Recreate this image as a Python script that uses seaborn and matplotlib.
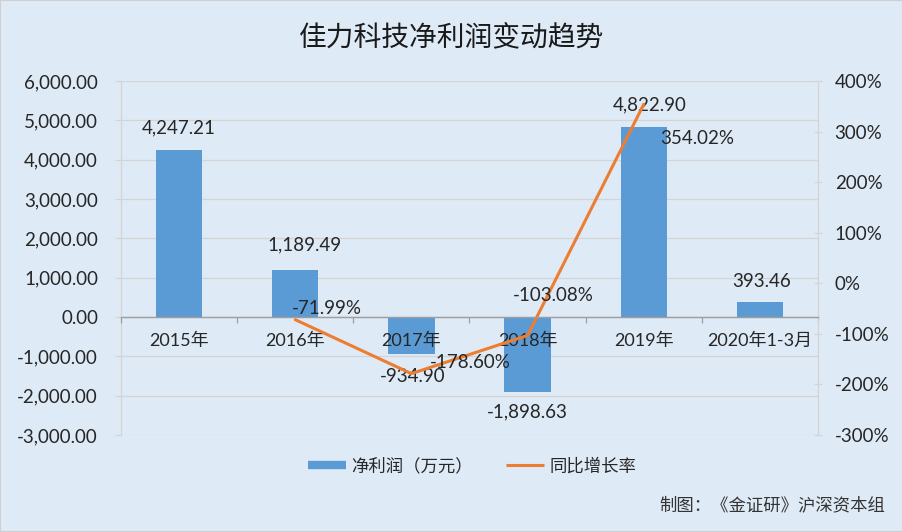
import matplotlib
matplotlib.use("Agg")
import matplotlib.pyplot as plt
from matplotlib.lines import Line2D
from matplotlib.patches import Rectangle
import seaborn as sns
import pandas as pd
import numpy as np

# ---- data ----
categories = ["2015年", "2016年", "2017年", "2018年", "2019年", "2020年1-3月"]
net_profit = [4247.21, 1189.49, -934.90, -1898.63, 4822.90, 393.46]   # 万元
yoy_growth = [np.nan, -71.99, -178.60, -103.08, 354.02, np.nan]        # %
profit_label_offsets = [(0, 22), (9, 25), (1, -23), (0, -20), (6, 22), (2, 20)]   # pixels
yoy_label_offsets = [None, (32, 11), (59, 11), (26, 40), (53, -34), None]        # pixels

title = "佳力科技净利润变动趋势"
legend_labels = ["净利润（万元）", "同比增长率"]
source = "制图：《金证研》沪深资本组"

BG = "#DEEAF6"
BAR = "#5B9BD5"
LINE = "#ED7D31"
TXT = "#262626"
GRID = "#D4D4D4"
AXIS = "#9E9E9E"
NUM_FS = 13.5

sns.set_theme(style="white")
plt.rcParams["font.family"] = ["Lato", "Noto Sans CJK SC", "DejaVu Sans"]
plt.rcParams["axes.unicode_minus"] = False

df = pd.DataFrame({"cat": categories, "profit": net_profit, "yoy": yoy_growth})

fig = plt.figure(figsize=(9.03, 5.32), dpi=100, facecolor=BG)
ax = fig.add_axes([121 / 903, 1 - 435 / 532, (818 - 121) / 903, (435 - 81) / 532])
ax.set_facecolor("none")

sns.barplot(data=df, x="cat", y="profit", order=categories, color=BAR,
            saturation=1, width=0.4, linewidth=0, edgecolor="none", ax=ax, zorder=2)

ax2 = ax.twinx()
sns.pointplot(data=df, x="cat", y="yoy", order=categories, color=LINE,
              markers="", linestyles="-", errorbar=None, ax=ax2)
for l in ax2.lines:
    l.set_linewidth(2.2)
    l.set_solid_capstyle("round")

# ---- axes styling ----
y_lo, y_hi = -3000, 6000
ax.set_xlim(-0.5, len(categories) - 0.5)
ax.set_ylim(y_lo, y_hi)
ax.set_yticks(np.arange(y_lo, y_hi + 1, 1000))
ax.set_yticklabels([f"{v:,.2f}" for v in np.arange(y_lo, y_hi + 1, 1000)])
ax2.set_ylim(-300, 400)
ax2.set_yticks(np.arange(-300, 401, 100))
ax2.set_yticklabels([f"{v:.0f}%" for v in np.arange(-300, 401, 100)])

for a in (ax, ax2):
    a.set_xlabel("")
    a.set_ylabel("")

ax.grid(axis="y", color=GRID, linewidth=0.9)
ax.grid(axis="x", visible=False)
ax.set_axisbelow(True)

for s in ["top", "right", "bottom"]:
    ax.spines[s].set_visible(False)
ax.spines["left"].set_color(GRID)
ax.spines["left"].set_linewidth(0.9)
ax.tick_params(axis="x", which="both", length=0, labelbottom=False)

# category axis drawn on the twin so its labels sit above the bars
ax2.xaxis.set_visible(True)
for s in ["top", "left"]:
    ax2.spines[s].set_visible(False)
ax2.spines["right"].set_color(GRID)
ax2.spines["right"].set_linewidth(0.9)
ax2.spines["bottom"].set_position(("axes", (0 - y_lo) / (y_hi - y_lo)))
ax2.spines["bottom"].set_color(AXIS)
ax2.spines["bottom"].set_linewidth(1.0)
ax2.set_xticks(range(len(categories)))
ax2.set_xticklabels(categories)
ax2.set_xticks(np.arange(-0.5, len(categories), 1.0), minor=True)
ax2.set_xlim(-0.5, len(categories) - 0.5)
ax2.tick_params(axis="x", which="major", length=0, pad=11, labelsize=13, labelcolor=TXT,
                labelbottom=True, bottom=True, top=False, labeltop=False)
ax2.tick_params(axis="x", which="minor", direction="out", length=4.5, width=0.9, color=AXIS,
                bottom=True, top=False)

ax.tick_params(axis="y", direction="out", length=4.5, width=0.9, color=GRID,
               pad=12, labelsize=NUM_FS, labelcolor=TXT)
ax2.tick_params(axis="y", direction="inout", length=6, width=0.9, color=GRID,
                pad=9, labelsize=NUM_FS, labelcolor=TXT)

# ---- data labels ----
for i, v in enumerate(net_profit):
    dx, dy = profit_label_offsets[i]
    ax2.annotate(f"{v:,.2f}", xy=(i, v), xycoords=ax.transData, xytext=(dx, dy),
                 textcoords="offset pixels", ha="center", va="center", fontsize=NUM_FS,
                 color=TXT, zorder=1)
for i, v in enumerate(yoy_growth):
    if np.isnan(v):
        continue
    dx, dy = yoy_label_offsets[i]
    ax2.annotate(f"{v:.2f}%", xy=(i, v), xytext=(dx, dy), textcoords="offset pixels",
                 ha="center", va="center", fontsize=NUM_FS, color=TXT, zorder=5)

# ---- title, legend, source ----
fig.text(0.5, 1 - 38 / 532, title, ha="center", va="center", fontsize=20,
         color="#1A1A1A", family=["Noto Sans CJK SC", "DejaVu Sans"])

handles = [Line2D([], [], color=BAR, linewidth=6, solid_capstyle="butt"),
           Line2D([], [], color=LINE, linewidth=2.2, solid_capstyle="butt")]
leg = fig.legend(handles, legend_labels, loc="center", bbox_to_anchor=(472 / 903, 1 - 466 / 532),
                 ncol=2, frameon=False, fontsize=12.5, handlelength=2.2, handletextpad=0.3,
                 columnspacing=1.9)
for t in leg.get_texts():
    t.set_color(TXT)

fig.text(885 / 903, 1 - 505 / 532, source, ha="right", va="center", fontsize=12.5,
         color="#333333", family=["Noto Sans CJK SC", "DejaVu Sans"])

fig.patches.append(Rectangle((0, 0), 1, 1, transform=fig.transFigure, fill=False,
                             edgecolor="#CFCFCF", linewidth=1.5))

fig.savefig("out.png", dpi=100, facecolor=BG)
